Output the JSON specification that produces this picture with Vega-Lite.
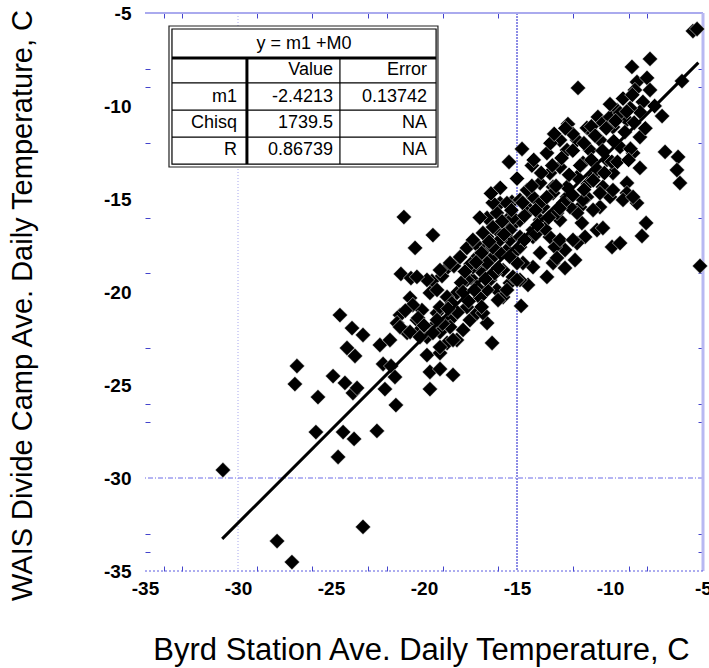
{
  "$schema": "https://vega.github.io/schema/vega-lite/v6.json",
  "width": 558,
  "height": 558,
  "autosize": {"type": "none"},
  "padding": {"left": 145, "top": 13, "right": 6, "bottom": 97},
  "background": "white",
  "config": {"view": {"stroke": null}, "font": "Liberation Sans"},
  "datasets": {
    "pts": [
      {"x":-30.81,"y":-29.57},{"x":-27.90,"y":-33.39},{"x":-27.10,"y":-34.52},{"x":-23.28,"y":-32.63},
      {"x":-26.94,"y":-24.95},{"x":-26.83,"y":-23.98},{"x":-25.70,"y":-25.65},{"x":-25.81,"y":-27.53},
      {"x":-24.62,"y":-28.87},{"x":-24.35,"y":-27.53},{"x":-23.76,"y":-27.90},{"x":-22.53,"y":-27.47},
      {"x":-21.51,"y":-26.08},{"x":-24.89,"y":-24.52},{"x":-24.52,"y":-21.24},{"x":-24.25,"y":-24.89},
      {"x":-23.82,"y":-25.43},{"x":-23.60,"y":-25.16},{"x":-23.87,"y":-21.94},{"x":-23.28,"y":-22.31},
      {"x":-24.14,"y":-23.01},{"x":-23.71,"y":-23.44},{"x":-22.37,"y":-22.85},{"x":-21.83,"y":-22.58},
      {"x":-22.20,"y":-23.87},{"x":-21.77,"y":-23.98},{"x":-21.56,"y":-24.57},{"x":-22.10,"y":-25.22},
      {"x":-21.08,"y":-15.97},{"x":-19.52,"y":-16.94},{"x":-20.48,"y":-17.63},{"x":-21.24,"y":-19.03},
      {"x":-20.70,"y":-19.25},{"x":-20.75,"y":-20.32},{"x":-19.57,"y":-19.41},{"x":-19.03,"y":-19.14},
      {"x":-19.68,"y":-20.05},{"x":-20.11,"y":-20.97},{"x":-19.30,"y":-21.13},{"x":-20.38,"y":-21.51},
      {"x":-21.29,"y":-21.24},{"x":-21.45,"y":-21.67},{"x":-20.91,"y":-22.20},{"x":-19.84,"y":-23.39},
      {"x":-19.14,"y":-23.28},{"x":-18.76,"y":-22.74},{"x":-19.68,"y":-24.30},{"x":-19.14,"y":-24.14},
      {"x":-19.68,"y":-25.22},{"x":-18.44,"y":-24.46},{"x":-20.38,"y":-22.20},{"x":-19.84,"y":-22.42},
      {"x":-19.52,"y":-21.88},{"x":-19.14,"y":-20.81},{"x":-18.71,"y":-18.66},{"x":-18.39,"y":-18.60},
      {"x":-17.69,"y":-17.63},{"x":-17.15,"y":-17.47},{"x":-16.61,"y":-16.02},{"x":-15.91,"y":-15.22},
      {"x":-15.27,"y":-15.16},{"x":-16.08,"y":-15.75},{"x":-17.63,"y":-19.25},{"x":-21.29,"y":-21.88},
      {"x":-20.75,"y":-22.15},{"x":-20.32,"y":-21.40},{"x":-18.60,"y":-21.51},{"x":-20.22,"y":-22.42},
      {"x":-19.14,"y":-22.15},{"x":-19.14,"y":-22.96},{"x":-17.69,"y":-20.81},{"x":-17.53,"y":-21.51},
      {"x":-17.90,"y":-22.04},{"x":-18.23,"y":-22.58},{"x":-17.15,"y":-21.13},{"x":-16.61,"y":-21.67},
      {"x":-16.34,"y":-22.74},{"x":-17.37,"y":-19.35},{"x":-16.99,"y":-18.82},{"x":-16.45,"y":-19.35},
      {"x":-16.08,"y":-19.89},{"x":-15.75,"y":-20.27},{"x":-15.38,"y":-19.52},{"x":-15.75,"y":-18.82},
      {"x":-16.29,"y":-18.12},{"x":-16.83,"y":-18.28},{"x":-15.54,"y":-17.74},{"x":-16.61,"y":-17.04},
      {"x":-16.08,"y":-16.67},{"x":-15.54,"y":-16.51},{"x":-15.38,"y":-17.20},{"x":-15.11,"y":-16.29},
      {"x":-15.00,"y":-17.74},
      {"x":-7.85,"y":-7.47},{"x":-8.82,"y":-7.90},{"x":-11.72,"y":-9.03},{"x":-6.13,"y":-8.66},
      {"x":-8.55,"y":-8.71},{"x":-8.01,"y":-8.49},{"x":-8.66,"y":-9.14},{"x":-7.85,"y":-9.14},
      {"x":-8.23,"y":-9.78},{"x":-7.20,"y":-10.54},{"x":-8.39,"y":-10.32},{"x":-12.26,"y":-10.97},
      {"x":-10.65,"y":-10.59},{"x":-11.24,"y":-11.18},{"x":-14.73,"y":-12.31},{"x":-15.43,"y":-13.01},
      {"x":-7.04,"y":-12.47},{"x":-6.34,"y":-12.74},{"x":-6.40,"y":-13.44},{"x":-6.24,"y":-14.14},
      {"x":-8.55,"y":-15.22},{"x":-9.62,"y":-10.22},{"x":-9.09,"y":-10.75},{"x":-8.39,"y":-11.67},
      {"x":-8.76,"y":-12.53},{"x":-8.39,"y":-13.33},{"x":-10.54,"y":-11.83},{"x":-11.08,"y":-12.37},
      {"x":-9.84,"y":-11.13},{"x":-9.46,"y":-12.20},{"x":-10.16,"y":-12.90},{"x":-11.45,"y":-13.06},
      {"x":-12.31,"y":-12.37},{"x":-13.39,"y":-12.53},{"x":-12.69,"y":-13.28},{"x":-11.77,"y":-13.82},
      {"x":-10.91,"y":-13.82},{"x":-9.84,"y":-13.60},{"x":-9.09,"y":-14.14},{"x":-10.38,"y":-14.35},
      {"x":-13.23,"y":-13.60},{"x":-13.76,"y":-14.14},{"x":-13.06,"y":-14.35},{"x":-12.31,"y":-14.89},
      {"x":-11.24,"y":-14.89},{"x":-10.00,"y":-14.89},{"x":-9.09,"y":-14.68},{"x":-14.14,"y":-14.89},
      {"x":-14.84,"y":-15.05},{"x":-15.54,"y":-15.22},{"x":-11.61,"y":-15.43},{"x":-10.54,"y":-15.43},
      {"x":-12.69,"y":-11.83},{"x":-11.77,"y":-11.83},{"x":-10.91,"y":-11.45},{"x":-10.38,"y":-10.91},
      {"x":-10.00,"y":-10.59},{"x":-9.46,"y":-10.38},{"x":-8.92,"y":-10.11},{"x":-5.54,"y":-5.97},
      {"x":-5.32,"y":-5.86},{"x":-5.16,"y":-18.60},{"x":-8.06,"y":-16.29},{"x":-8.28,"y":-16.99},
      {"x":-9.89,"y":-17.58},{"x":-9.46,"y":-17.37},{"x":-9.30,"y":-15.05},{"x":-10.70,"y":-16.67},
      {"x":-10.38,"y":-16.56},{"x":-11.51,"y":-16.29},{"x":-11.34,"y":-17.04},{"x":-11.88,"y":-18.28},
      {"x":-12.42,"y":-18.71},{"x":-12.42,"y":-17.74},{"x":-12.96,"y":-17.58},{"x":-11.77,"y":-17.37},
      {"x":-14.41,"y":-19.62},{"x":-14.78,"y":-20.75},{"x":-15.54,"y":-19.89},{"x":-15.22,"y":-19.19},
      {"x":-13.76,"y":-17.90},{"x":-14.14,"y":-18.66},{"x":-14.68,"y":-18.44},{"x":-13.23,"y":-17.04},
      {"x":-14.14,"y":-17.04},{"x":-14.84,"y":-17.58},{"x":-15.54,"y":-16.13},{"x":-14.84,"y":-16.13},
      {"x":-13.76,"y":-16.13},{"x":-12.69,"y":-16.13},{"x":-11.77,"y":-15.75},{"x":-10.91,"y":-15.59},
      {"x":-13.60,"y":-15.43},{"x":-14.46,"y":-15.43},{"x":-12.69,"y":-17.20},{"x":-13.06,"y":-18.44},
      {"x":-13.39,"y":-19.19},{"x":-14.84,"y":-19.35},{"x":-12.85,"y":-18.17},{"x":-16.61,"y":-19.89},
      {"x":-17.15,"y":-18.12},{"x":-15.91,"y":-17.90},{"x":-14.84,"y":-17.04},{"x":-14.14,"y":-16.67},
      {"x":-12.85,"y":-15.75},{"x":-12.15,"y":-15.43},{"x":-11.45,"y":-15.05},{"x":-10.54,"y":-14.68},
      {"x":-9.84,"y":-14.52},{"x":-8.76,"y":-14.89},{"x":-14.46,"y":-15.75},{"x":-13.76,"y":-15.22},
      {"x":-13.06,"y":-14.68},{"x":-12.31,"y":-14.35},{"x":-14.46,"y":-14.52},{"x":-16.29,"y":-16.51},
      {"x":-16.83,"y":-16.83},{"x":-17.37,"y":-17.20},{"x":-18.06,"y":-18.12},{"x":-18.60,"y":-18.44},
      {"x":-19.14,"y":-18.82},{"x":-16.61,"y":-17.58},{"x":-15.38,"y":-16.67},{"x":-15.91,"y":-17.20},
      {"x":-15.00,"y":-18.44},{"x":-11.99,"y":-17.20},{"x":-16.61,"y":-18.44},{"x":-17.37,"y":-18.66},
      {"x":-17.69,"y":-19.35},{"x":-17.15,"y":-19.73},{"x":-18.23,"y":-20.05},{"x":-18.76,"y":-20.27},
      {"x":-19.30,"y":-19.89},{"x":-19.84,"y":-19.35},{"x":-20.38,"y":-19.19},{"x":-16.83,"y":-21.13},
      {"x":-18.60,"y":-21.88},{"x":-19.52,"y":-22.20},{"x":-18.44,"y":-22.58},{"x":-16.02,"y":-20.43},
      {"x":-15.00,"y":-19.35},
      {"x":-18.00,"y":-19.50},{"x":-17.50,"y":-18.50},{"x":-16.90,"y":-17.90},{"x":-16.30,"y":-17.60},
      {"x":-15.70,"y":-16.90},{"x":-15.20,"y":-16.00},{"x":-14.60,"y":-15.90},{"x":-14.00,"y":-15.60},
      {"x":-13.40,"y":-14.90},{"x":-12.90,"y":-14.30},{"x":-12.20,"y":-13.70},{"x":-11.60,"y":-13.20},
      {"x":-11.00,"y":-12.90},{"x":-10.40,"y":-12.40},{"x":-9.80,"y":-11.90},{"x":-9.20,"y":-11.40},
      {"x":-8.70,"y":-10.90},{"x":-16.20,"y":-19.00},{"x":-17.00,"y":-20.30},{"x":-18.20,"y":-21.10},
      {"x":-19.00,"y":-21.70},{"x":-14.00,"y":-16.90},{"x":-13.50,"y":-16.60},{"x":-12.50,"y":-15.20},
      {"x":-11.20,"y":-14.20},{"x":-10.70,"y":-13.40},{"x":-9.90,"y":-13.00},{"x":-8.90,"y":-12.30},
      {"x":-8.10,"y":-11.20},{"x":-7.60,"y":-10.00},{"x":-16.30,"y":-15.20},{"x":-15.90,"y":-14.40},
      {"x":-15.00,"y":-13.90},{"x":-14.20,"y":-13.20},{"x":-13.20,"y":-12.00},{"x":-12.00,"y":-11.50},
      {"x":-11.00,"y":-11.10},{"x":-10.00,"y":-9.90},{"x":-9.30,"y":-9.60},{"x":-8.80,"y":-9.40},
      {"x":-17.80,"y":-18.90},{"x":-17.20,"y":-18.40},{"x":-16.50,"y":-17.30},{"x":-15.80,"y":-16.20},
      {"x":-15.30,"y":-15.60},{"x":-14.70,"y":-15.20},{"x":-14.20,"y":-14.30},{"x":-13.70,"y":-13.60},
      {"x":-13.10,"y":-13.20},{"x":-12.60,"y":-12.80},{"x":-12.00,"y":-12.40},{"x":-11.40,"y":-12.00},
      {"x":-10.80,"y":-11.60},{"x":-10.20,"y":-11.20},{"x":-9.70,"y":-10.80},{"x":-9.10,"y":-10.30},
      {"x":-18.50,"y":-20.60},{"x":-17.90,"y":-20.00},{"x":-17.30,"y":-19.90},{"x":-16.70,"y":-19.30},
      {"x":-16.00,"y":-18.70},{"x":-15.40,"y":-18.10},{"x":-14.60,"y":-17.20},{"x":-13.90,"y":-16.40},
      {"x":-13.30,"y":-16.00},{"x":-12.70,"y":-15.50},{"x":-12.00,"y":-14.80},{"x":-11.40,"y":-14.50},
      {"x":-10.90,"y":-14.00},{"x":-10.30,"y":-13.60},{"x":-9.60,"y":-13.00},{"x":-9.00,"y":-12.90},
      {"x":-20.00,"y":-21.80},{"x":-19.30,"y":-21.50},{"x":-18.70,"y":-20.90},{"x":-17.60,"y":-20.50},
      {"x":-16.90,"y":-20.80},{"x":-20.60,"y":-20.70},{"x":-21.00,"y":-21.00},{"x":-17.00,"y":-16.00},
      {"x":-16.40,"y":-14.70},{"x":-13.00,"y":-11.50},{"x":-12.40,"y":-11.20},{"x":-14.10,"y":-12.90}
    ],
    "fit": [{"x": -30.85, "y": -33.27}, {"x": -5.25, "y": -7.67}],
    "boxes": [
      {"x1": -33.71, "x2": -19.25, "y1": -5.70, "y2": -13.28}
    ],
    "inner": [
      {"x1": -33.55, "x2": -19.35, "y1": -5.86, "y2": -13.12}
    ],
    "thick": [
      {"x1": -33.55, "x2": -19.35, "y1": -7.42, "y2": -7.42},
      {"x1": -29.52, "x2": -29.52, "y1": -7.42, "y2": -13.12}
    ],
    "thin": [
      {"x1": -33.55, "x2": -19.35, "y1": -8.76, "y2": -8.76},
      {"x1": -33.55, "x2": -19.35, "y1": -10.22, "y2": -10.22},
      {"x1": -33.55, "x2": -19.35, "y1": -11.67, "y2": -11.67},
      {"x1": -24.52, "x2": -24.52, "y1": -7.42, "y2": -13.12}
    ],
    "cells": [
      {"tx": -24.89, "ty": -8.09, "t": "Value"},
      {"tx": -19.84, "ty": -8.09, "t": "Error"},
      {"tx": -30.05, "ty": -9.49, "t": "m1"},
      {"tx": -24.89, "ty": -9.49, "t": "-2.4213"},
      {"tx": -19.84, "ty": -9.49, "t": "0.13742"},
      {"tx": -30.05, "ty": -10.94, "t": "Chisq"},
      {"tx": -24.89, "ty": -10.94, "t": "1739.5"},
      {"tx": -19.84, "ty": -10.94, "t": "NA"},
      {"tx": -30.05, "ty": -12.39, "t": "R"},
      {"tx": -24.89, "ty": -12.39, "t": "0.86739"},
      {"tx": -19.84, "ty": -12.39, "t": "NA"}
    ],
    "ttl": [{"tx": -26.45, "ty": -6.64, "t": "y = m1 +M0"}]
  },
  "resolve": {"axis": {"x": "independent", "y": "independent"}},
  "layer": [
    {
      "data": {"values": [{"v": -30}]},
      "mark": {"type": "rule", "color": "#a8a8ee", "strokeWidth": 1, "strokeDash": [1, 2]},
      "encoding": {
        "x": {"field": "v", "type": "quantitative", "scale": {"domain": [-35, -5], "nice": false, "zero": false},
          "axis": {"orient": "top", "values": [-34, -33, -29, -26, -23, -22, -19, -16, -12, -9, -8], "labels": false, "domain": false, "grid": false, "title": null, "tickSize": -5, "tickColor": "#4444cc", "tickWidth": 1}}
      }
    },
    {
      "data": {"values": [{"v": -15}]},
      "mark": {"type": "rule", "color": "#1a1acc", "strokeWidth": 1, "strokeDash": [2, 1]},
      "encoding": {
        "x": {"field": "v", "type": "quantitative", "scale": {"domain": [-35, -5], "nice": false, "zero": false}, "axis": null}
      }
    },
    {
      "data": {"values": [{"v": -30}]},
      "mark": {"type": "rule", "color": "#6a6ae6", "strokeWidth": 1, "strokeDash": [5, 2, 1, 2]},
      "encoding": {
        "y": {"field": "v", "type": "quantitative", "scale": {"domain": [-35, -5], "nice": false, "zero": false},
          "axis": {"orient": "right", "values": [-8, -9, -12, -16, -19, -23, -26, -27, -33, -34], "labels": false, "domain": false, "grid": false, "title": null, "tickSize": -5, "tickColor": "#4444cc", "tickWidth": 1}}
      }
    },
    {
      "data": {"values": [{"v": -5}]},
      "mark": {"type": "rule", "color": "#aaaaee", "strokeWidth": 2},
      "encoding": {
        "y": {"field": "v", "type": "quantitative", "scale": {"domain": [-35, -5], "nice": false, "zero": false}, "axis": null}
      }
    },
    {
      "data": {"values": [{"v": -5}]},
      "mark": {"type": "rule", "color": "#b8b8f2", "strokeWidth": 3},
      "encoding": {
        "x": {"field": "v", "type": "quantitative", "scale": {"domain": [-35, -5], "nice": false, "zero": false}, "axis": null}
      }
    },
    {
      "data": {"values": [{"v": -35}]},
      "mark": {"type": "rule", "color": "#5a5ae0", "strokeWidth": 1, "strokeDash": [2, 2]},
      "encoding": {
        "y": {"field": "v", "type": "quantitative", "scale": {"domain": [-35, -5], "nice": false, "zero": false}, "axis": null}
      }
    },
    {
      "data": {"name": "pts"},
      "mark": {"type": "point", "shape": "diamond", "filled": true, "size": 235, "color": "#000000", "stroke": "#ffffff", "strokeWidth": 0.5, "opacity": 1},
      "encoding": {
        "x": {"field": "x", "type": "quantitative", "scale": {"domain": [-35, -5], "nice": false, "zero": false},
          "axis": {"orient": "bottom", "values": [-35, -34, -33, -30, -29, -26, -25, -23, -22, -20, -19, -16, -15, -12, -10, -9, -8, -5],
            "labelExpr": "datum.value % 5 === 0 ? '' + datum.value : ''",
            "tickOpacity": {"condition": {"test": "datum.value % 5 === 0", "value": 0}, "value": 1},
            "tickSize": -5, "tickColor": "#4444cc", "domain": false, "grid": false,
            "labelFont": "Liberation Sans", "labelFontSize": 19, "labelFontWeight": "bold", "labelColor": "#000000",
            "labelPadding": 13, "labelFlush": false, "labelOverlap": false, "labelBound": false,
            "title": "Byrd Station Ave. Daily Temperature, C", "titleFont": "Liberation Sans", "titleFontSize": 31, "titleFontWeight": "normal", "titleColor": "#000000",
            "titleX": 276, "titleY": 88, "titleBaseline": "alphabetic", "titleAlign": "center"}},
        "y": {"field": "y", "type": "quantitative", "scale": {"domain": [-35, -5], "nice": false, "zero": false},
          "axis": {"orient": "left", "values": [-35, -34, -33, -30, -27, -26, -25, -23, -20, -19, -16, -15, -12, -10, -9, -8, -5],
            "labelExpr": "datum.value % 5 === 0 ? '' + datum.value : ''",
            "tickOpacity": {"condition": {"test": "datum.value % 5 === 0", "value": 0}, "value": 1},
            "tickSize": -5, "tickColor": "#4444cc", "domain": false, "grid": false,
            "labelFont": "Liberation Sans", "labelFontSize": 19, "labelFontWeight": "bold", "labelColor": "#000000",
            "labelPadding": 19, "labelFlush": false, "labelOverlap": false, "labelBound": false,
            "title": "WAIS Divide Camp Ave. Daily Temperature, C", "titleFont": "Liberation Sans", "titleFontSize": 29, "titleFontWeight": "normal", "titleColor": "#000000",
            "titleX": -114, "titleY": 292, "titleBaseline": "alphabetic", "titleAlign": "center", "titleAngle": -90}}
      }
    },
    {
      "data": {"name": "fit"},
      "mark": {"type": "line", "color": "#000000", "strokeWidth": 3},
      "encoding": {
        "x": {"field": "x", "type": "quantitative", "scale": {"domain": [-35, -5], "nice": false, "zero": false}, "axis": null},
        "y": {"field": "y", "type": "quantitative", "scale": {"domain": [-35, -5], "nice": false, "zero": false}, "axis": null}
      }
    },
    {
      "data": {"name": "boxes"},
      "mark": {"type": "rect", "fill": "#ffffff", "stroke": "#222222", "strokeWidth": 1.2},
      "encoding": {
        "x": {"field": "x1", "type": "quantitative", "scale": {"domain": [-35, -5], "nice": false, "zero": false}, "axis": null},
        "x2": {"field": "x2"},
        "y": {"field": "y1", "type": "quantitative", "scale": {"domain": [-35, -5], "nice": false, "zero": false}, "axis": null},
        "y2": {"field": "y2"}
      }
    },
    {
      "data": {"name": "inner"},
      "mark": {"type": "rect", "fill": null, "fillOpacity": 0, "stroke": "#000000", "strokeWidth": 1.2},
      "encoding": {
        "x": {"field": "x1", "type": "quantitative", "scale": {"domain": [-35, -5], "nice": false, "zero": false}, "axis": null},
        "x2": {"field": "x2"},
        "y": {"field": "y1", "type": "quantitative", "scale": {"domain": [-35, -5], "nice": false, "zero": false}, "axis": null},
        "y2": {"field": "y2"}
      }
    },
    {
      "data": {"name": "thick"},
      "mark": {"type": "rule", "color": "#000000", "strokeWidth": 3},
      "encoding": {
        "x": {"field": "x1", "type": "quantitative", "scale": {"domain": [-35, -5], "nice": false, "zero": false}, "axis": null},
        "x2": {"field": "x2"},
        "y": {"field": "y1", "type": "quantitative", "scale": {"domain": [-35, -5], "nice": false, "zero": false}, "axis": null},
        "y2": {"field": "y2"}
      }
    },
    {
      "data": {"name": "thin"},
      "mark": {"type": "rule", "color": "#000000", "strokeWidth": 1.2},
      "encoding": {
        "x": {"field": "x1", "type": "quantitative", "scale": {"domain": [-35, -5], "nice": false, "zero": false}, "axis": null},
        "x2": {"field": "x2"},
        "y": {"field": "y1", "type": "quantitative", "scale": {"domain": [-35, -5], "nice": false, "zero": false}, "axis": null},
        "y2": {"field": "y2"}
      }
    },
    {
      "data": {"name": "cells"},
      "mark": {"type": "text", "align": "right", "baseline": "middle", "font": "Liberation Sans", "fontSize": 18, "color": "#000000"},
      "encoding": {
        "x": {"field": "tx", "type": "quantitative", "scale": {"domain": [-35, -5], "nice": false, "zero": false}, "axis": null},
        "y": {"field": "ty", "type": "quantitative", "scale": {"domain": [-35, -5], "nice": false, "zero": false}, "axis": null},
        "text": {"field": "t"}
      }
    },
    {
      "data": {"name": "ttl"},
      "mark": {"type": "text", "align": "center", "baseline": "middle", "font": "Liberation Sans", "fontSize": 18, "color": "#000000"},
      "encoding": {
        "x": {"field": "tx", "type": "quantitative", "scale": {"domain": [-35, -5], "nice": false, "zero": false}, "axis": null},
        "y": {"field": "ty", "type": "quantitative", "scale": {"domain": [-35, -5], "nice": false, "zero": false}, "axis": null},
        "text": {"field": "t"}
      }
    }
  ]
}
